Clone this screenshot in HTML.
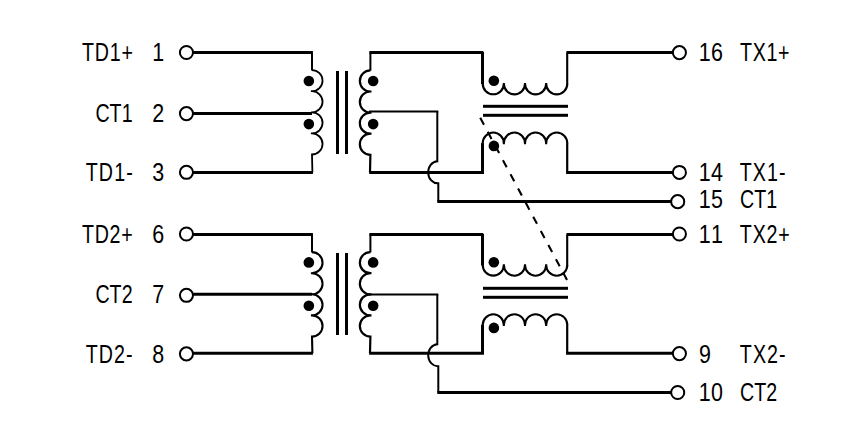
<!DOCTYPE html>
<html lang="en">
<head>
<meta charset="utf-8">
<title>Transformer schematic</title>
<style>
html,body{margin:0;padding:0;background:#fff;}
body{width:855px;height:435px;overflow:hidden;}
svg{display:block;}
text{font-family:"Liberation Sans",sans-serif;font-kerning:none;}
</style>
</head>
<body>
<svg width="855" height="435" viewBox="0 0 855 435">
<rect x="0" y="0" width="855" height="435" fill="#fff"/>
<g fill="none" stroke="#000" stroke-linecap="butt" stroke-linejoin="miter">
<line x1="192.25" y1="52.45" x2="312.9" y2="52.45" stroke-width="3"/>
<line x1="192.25" y1="113.4" x2="312" y2="113.4" stroke-width="3"/>
<line x1="192.25" y1="172.4" x2="312.9" y2="172.4" stroke-width="3"/>
<line x1="312" y1="52.45" x2="312" y2="70.4" stroke-width="2"/>
<path d="M312,70.1 a10.55,10.55 0 0 1 0,21.1 h-1.1 h1.1 a10.55,10.55 0 0 1 0,21.1 h-1.1 h1.1 a10.55,10.55 0 0 1 0,21.1 h-1.1 h1.1 a10.55,10.55 0 0 1 0,21.1 L312.4,172.4" stroke-width="1.8" />
<circle cx="308.85" cy="81" r="5.3" fill="#000" stroke="none"/>
<circle cx="308.85" cy="124.1" r="5.3" fill="#000" stroke="none"/>
<rect x="336" y="71" width="3" height="83" fill="#000" stroke="none"/>
<rect x="345" y="71" width="3" height="83" fill="#000" stroke="none"/>
<line x1="370.4" y1="52.45" x2="370.4" y2="70.7" stroke-width="2"/>
<path d="M370.4,70.4 a10.55,10.55 0 0 0 0,21.1 h1.1 h-1.1 a10.55,10.55 0 0 0 0,21.1 h1.1 h-1.1 a10.55,10.55 0 0 0 0,21.1 h1.1 h-1.1 a10.55,10.55 0 0 0 0,21.1 L370,172.4" stroke-width="2.2" />
<circle cx="373.15" cy="81" r="5.3" fill="#000" stroke="none"/>
<circle cx="373.15" cy="124.1" r="5.3" fill="#000" stroke="none"/>
<line x1="369.4" y1="52.45" x2="483.2" y2="52.45" stroke-width="3"/>
<line x1="369.2" y1="172.4" x2="484" y2="172.4" stroke-width="3"/>
<line x1="369" y1="111.5" x2="438.3" y2="111.5" stroke-width="2"/>
<path d="M437.3,111.5 L437.3,161.35 a9.6,11 0 0 0 1,22 L438.3,201.5" stroke-width="2" />
<line x1="437.3" y1="201.5" x2="671.7" y2="201.5" stroke-width="3"/>
<line x1="482.5" y1="51.85" x2="482.5" y2="84" stroke-width="3"/>
<line x1="567.2" y1="52.45" x2="567.2" y2="84" stroke-width="2.1"/>
<path d="M482.7,83.7 a10.57,10.6 0 0 0 21.15,0 v-0.8 v0.8 a10.57,10.6 0 0 0 21.15,0 v-0.8 v0.8 a10.57,10.6 0 0 0 21.15,0 v-0.8 v0.8 a10.57,10.6 0 0 0 21.15,0" stroke-width="2.15" />
<line x1="482.5" y1="172.4" x2="482.5" y2="143.1" stroke-width="3"/>
<line x1="567.2" y1="172.4" x2="567.2" y2="143.1" stroke-width="2.2"/>
<path d="M482.7,143.4 a10.57,10.9 0 0 1 21.15,0 v0.8 v-0.8 a10.57,10.9 0 0 1 21.15,0 v0.8 v-0.8 a10.57,10.9 0 0 1 21.15,0 v0.8 v-0.8 a10.57,10.9 0 0 1 21.15,0" stroke-width="2.1" />
<circle cx="493.85" cy="80.8" r="5.3" fill="#000" stroke="none"/>
<circle cx="493.9" cy="145.9" r="5.3" fill="#000" stroke="none"/>
<rect x="483" y="104.8" width="85" height="3" fill="#000" stroke="none"/>
<rect x="483" y="113.8" width="85" height="3" fill="#000" stroke="none"/>
<line x1="566.5" y1="52.45" x2="673.2" y2="52.45" stroke-width="3"/>
<line x1="566.1" y1="172.4" x2="673.2" y2="172.4" stroke-width="3"/>
<line x1="192.25" y1="234.5" x2="312.9" y2="234.5" stroke-width="3"/>
<line x1="192.25" y1="294.25" x2="312" y2="294.25" stroke-width="3"/>
<line x1="192.25" y1="353.3" x2="312.9" y2="353.3" stroke-width="3"/>
<line x1="312" y1="234.5" x2="312" y2="252.4" stroke-width="2"/>
<path d="M312,252.1 a10.55,10.55 0 0 1 0,21.1 h-1.1 h1.1 a10.55,10.55 0 0 1 0,21.1 h-1.1 h1.1 a10.55,10.55 0 0 1 0,21.1 h-1.1 h1.1 a10.55,10.55 0 0 1 0,21.1 L312.4,353.3" stroke-width="2.1" />
<circle cx="308.85" cy="262.4" r="5.3" fill="#000" stroke="none"/>
<circle cx="308.85" cy="305.7" r="5.3" fill="#000" stroke="none"/>
<rect x="336" y="253" width="3" height="82" fill="#000" stroke="none"/>
<rect x="345" y="253" width="3" height="82" fill="#000" stroke="none"/>
<line x1="370.4" y1="234.5" x2="370.4" y2="252.4" stroke-width="2"/>
<path d="M370.4,252.1 a10.55,10.55 0 0 0 0,21.1 h1.1 h-1.1 a10.55,10.55 0 0 0 0,21.1 h1.1 h-1.1 a10.55,10.55 0 0 0 0,21.1 h1.1 h-1.1 a10.55,10.55 0 0 0 0,21.1 L370,353.3" stroke-width="2.2" />
<circle cx="373.15" cy="262.4" r="5.3" fill="#000" stroke="none"/>
<circle cx="373.15" cy="305.7" r="5.3" fill="#000" stroke="none"/>
<line x1="369.4" y1="234.5" x2="483.2" y2="234.5" stroke-width="3"/>
<line x1="369.2" y1="353.3" x2="484" y2="353.3" stroke-width="3"/>
<line x1="369" y1="294.5" x2="438.3" y2="294.5" stroke-width="2"/>
<path d="M437.3,294.5 L437.3,344.2 a9.6,11 0 0 0 1,22 L438.3,392.45" stroke-width="2" />
<line x1="437.3" y1="392.45" x2="671.7" y2="392.45" stroke-width="3"/>
<line x1="482.5" y1="233.9" x2="482.5" y2="265.4" stroke-width="3"/>
<line x1="567.2" y1="234.5" x2="567.2" y2="265.4" stroke-width="2.1"/>
<path d="M482.7,265.1 a10.57,10.6 0 0 0 21.15,0 v-0.8 v0.8 a10.57,10.6 0 0 0 21.15,0 v-0.8 v0.8 a10.57,10.6 0 0 0 21.15,0 v-0.8 v0.8 a10.57,10.6 0 0 0 21.15,0" stroke-width="2.15" />
<line x1="482.5" y1="353.3" x2="482.5" y2="324.8" stroke-width="3"/>
<line x1="567.2" y1="353.3" x2="567.2" y2="324.8" stroke-width="2.2"/>
<path d="M482.7,325.1 a10.57,10.9 0 0 1 21.15,0 v0.8 v-0.8 a10.57,10.9 0 0 1 21.15,0 v0.8 v-0.8 a10.57,10.9 0 0 1 21.15,0 v0.8 v-0.8 a10.57,10.9 0 0 1 21.15,0" stroke-width="2.1" />
<circle cx="493.85" cy="262.2" r="5.3" fill="#000" stroke="none"/>
<circle cx="493.9" cy="327.9" r="5.3" fill="#000" stroke="none"/>
<rect x="483" y="286.8" width="85" height="3" fill="#000" stroke="none"/>
<rect x="483" y="295.8" width="85" height="3" fill="#000" stroke="none"/>
<line x1="566.5" y1="234.5" x2="673.2" y2="234.5" stroke-width="3"/>
<line x1="566.1" y1="353.3" x2="673.2" y2="353.3" stroke-width="3"/>
<circle cx="186.45" cy="52.5" r="6.55" stroke-width="2" fill="#fff"/>
<circle cx="186.45" cy="113.6" r="6.55" stroke-width="2" fill="#fff"/>
<circle cx="186.45" cy="172.3" r="6.55" stroke-width="2" fill="#fff"/>
<circle cx="186.45" cy="234" r="6.55" stroke-width="2" fill="#fff"/>
<circle cx="186.45" cy="295.3" r="6.55" stroke-width="2" fill="#fff"/>
<circle cx="186.45" cy="353.85" r="6.55" stroke-width="2" fill="#fff"/>
<circle cx="679.4" cy="52.6" r="6.55" stroke-width="2" fill="#fff"/>
<circle cx="679.4" cy="172.45" r="6.55" stroke-width="2" fill="#fff"/>
<circle cx="677.7" cy="201.65" r="6.55" stroke-width="2" fill="#fff"/>
<circle cx="679.4" cy="234" r="6.55" stroke-width="2" fill="#fff"/>
<circle cx="679.4" cy="353.6" r="6.55" stroke-width="2" fill="#fff"/>
<circle cx="677.7" cy="392.5" r="6.55" stroke-width="2" fill="#fff"/>
<line x1="480.2" y1="117.7" x2="567" y2="279.9" stroke-width="2.1" stroke-dasharray="8 8.05"/>
</g>
<g font-family="'Liberation Sans', sans-serif" font-size="26.2" fill="#000">
<text transform="translate(81.96,60.9) scale(0.7500,1)" letter-spacing="1.073">TD1+</text>
<text transform="translate(152.21,60.9) scale(0.8200,1)">1</text>
<text transform="translate(95.4,122) scale(0.7500,1)" letter-spacing="0.043">CT1</text>
<text transform="translate(152.21,122) scale(0.8200,1)">2</text>
<text transform="translate(85.66,180.6) scale(0.7500,1)" letter-spacing="1.577">TD1-</text>
<text transform="translate(152.21,180.6) scale(0.8200,1)">3</text>
<text transform="translate(81.96,243) scale(0.7500,1)" letter-spacing="0.984">TD2+</text>
<text transform="translate(152.21,243) scale(0.8200,1)">6</text>
<text transform="translate(95.4,303) scale(0.7500,1)" letter-spacing="0.043">CT2</text>
<text transform="translate(152.21,303) scale(0.8200,1)">7</text>
<text transform="translate(85.66,363) scale(0.7500,1)" letter-spacing="1.488">TD2-</text>
<text transform="translate(152.21,363) scale(0.8200,1)">8</text>
<text transform="translate(698.66,60.9) scale(0.8200,1)" letter-spacing="0.468">16</text>
<text transform="translate(740.06,60.9) scale(0.7500,1)" letter-spacing="0.888">TX1+</text>
<text transform="translate(698.66,180.6) scale(0.8200,1)" letter-spacing="0.468">14</text>
<text transform="translate(739.86,180.6) scale(0.7500,1)" letter-spacing="1.348">TX1-</text>
<text transform="translate(698.66,207.8) scale(0.8200,1)" letter-spacing="0.468">15</text>
<text transform="translate(740,207.8) scale(0.7500,1)" letter-spacing="0.109">CT1</text>
<text transform="translate(698.66,243) scale(0.8200,1)" letter-spacing="0.468">11</text>
<text transform="translate(739.86,243) scale(0.7500,1)" letter-spacing="1.065">TX2+</text>
<text transform="translate(699.09,363) scale(0.8200,1)">9</text>
<text transform="translate(739.86,363) scale(0.7500,1)" letter-spacing="1.437">TX2-</text>
<text transform="translate(698.66,400.6) scale(0.8200,1)" letter-spacing="0.468">10</text>
<text transform="translate(740,400.6) scale(0.7500,1)" letter-spacing="0.109">CT2</text>
</g>
</svg>
</body>
</html>
